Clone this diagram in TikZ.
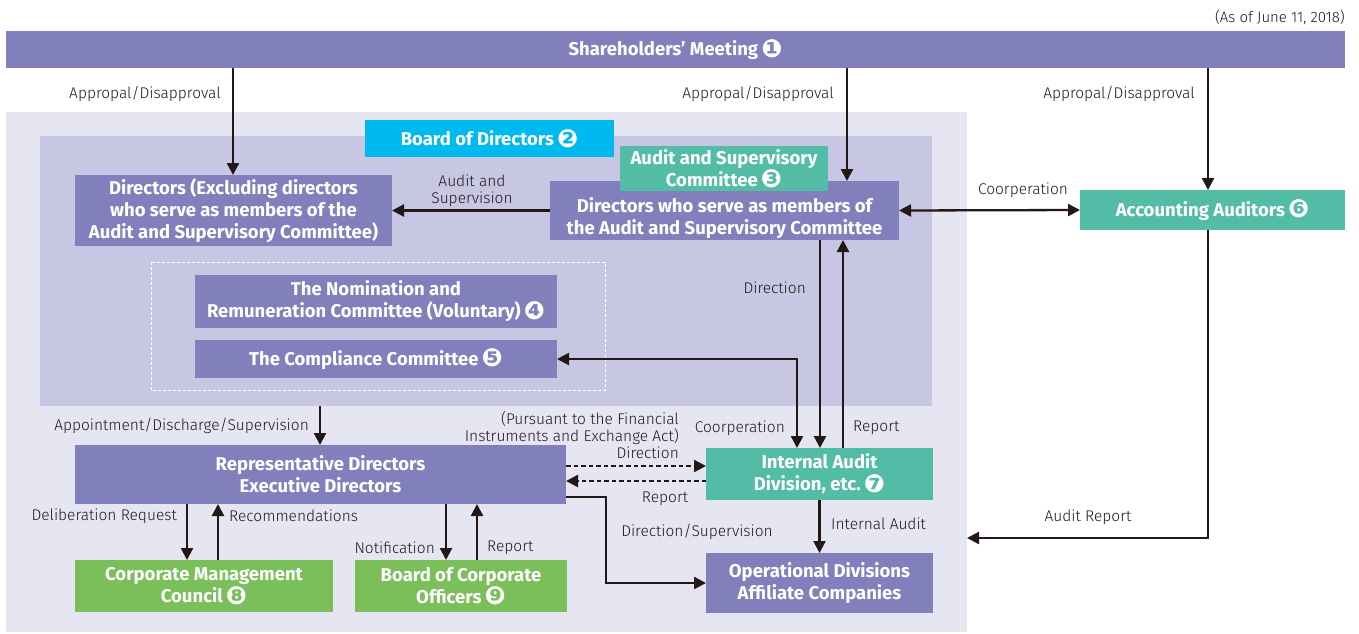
\documentclass[tikz,border=0pt]{standalone}
\usepackage{fontspec}
\usetikzlibrary{arrows.meta}
\setmainfont{Fira Sans}
\newfontfamily\bfam{Fira Sans}
\newfontfamily\lfam{Fira Sans Light}
\newfontfamily\djfam{DejaVu Sans}
\newcommand\cn[1]{\,\raisebox{-1.5pt}{\djfam\fontsize{25}{25}\selectfont #1}}
\definecolor{pur}{RGB}{129,128,189}
\definecolor{tealc}{RGB}{82,188,166}
\definecolor{cyanc}{RGB}{0,185,239}
\definecolor{greenc}{RGB}{122,191,90}
\definecolor{bgone}{RGB}{230,230,243}
\definecolor{bgtwo}{RGB}{199,199,228}
\definecolor{ink}{RGB}{35,24,21}
\tikzset{
 box/.style={inner sep=0pt, outer sep=0pt, align=center, text=white, anchor=north west,
   font=\bfam\bfseries\fontsize{18.5}{22}\selectfont},
 btxt/.style={inner sep=0pt, align=center, text=white, font=\bfam\bfseries\fontsize{18.5}{22}\selectfont},
 lbl/.style={inner sep=0pt, font=\lfam\fontsize{15.5}{17}\selectfont, text=ink, align=center},
 arr/.style={draw=ink, line width=2.3pt, -{Triangle[length=12pt,width=12pt]}},
 darr/.style={arr, dash pattern=on 4.5pt off 3pt},
 area/.style={inner sep=0pt, outer sep=0pt, anchor=north west, draw=none},
}
\begin{document}
\begin{tikzpicture}[x=1pt,y=-1pt]
\useasboundingbox[fill=white] (0,0) rectangle (1359,633);
% background areas
\node[area, fill=bgone, minimum width=961pt, minimum height=520pt] (outer) at (6,112) {};
\node[area, fill=bgtwo, minimum width=892pt, minimum height=270pt] (board) at (40,136) {};
\draw[white, line width=0.9pt, dash pattern=on 3pt off 2pt] (151,262) rectangle (605,390);
% top
\node[lbl, anchor=east, font=\lfam\fontsize{15}{17}\selectfont] (asof) at (1345,17) {(As of June 11, 2018)};
\node[box, fill=pur, minimum width=1339pt, minimum height=37pt] (sh) at (6,31) {Shareholders’ Meeting\cn{❶}};
% boxes
\node[box, fill=cyanc, minimum width=249pt, minimum height=37pt] (bod) at (365,120) {Board of Directors\cn{❷}};
\node[box, fill=pur, minimum width=317pt, minimum height=71pt] (dir1) at (75,175) {Directors (Excluding directors\\who serve as members of the\\Audit and Supervisory Committee)};
\node[box, fill=pur, minimum width=349pt, minimum height=59pt] (dir2) at (550,181) {};
\node[btxt] (dir2t) at ([yshift=-8pt]dir2.center) {Directors who serve as members of\\the Audit and Supervisory Committee};
\node[box, fill=tealc, minimum width=208pt, minimum height=45pt] (asc) at (620,146) {Audit and Supervisory\\Committee\cn{❸}};
\node[box, fill=tealc, minimum width=265pt, minimum height=40pt] (acc) at (1080,190) {Accounting Auditors\cn{❻}};
\node[box, fill=pur, minimum width=362pt, minimum height=53pt] (nom) at (195,275) {The Nomination and\\Remuneration Committee (Voluntary)\cn{❹}};
\node[box, fill=pur, minimum width=362pt, minimum height=38pt] (comp) at (195,340) {The Compliance Committee\cn{❺}};
\node[box, fill=pur, minimum width=491pt, minimum height=59pt] (rep) at (75,445) {Representative Directors\\Executive Directors};
\node[box, fill=tealc, minimum width=227pt, minimum height=52pt] (ia) at (706,448) {Internal Audit\\Division, etc.\cn{❼}};
\node[box, fill=pur, minimum width=227pt, minimum height=60pt] (op) at (706,553) {Operational Divisions\\Affiliate Companies};
\node[box, fill=greenc, minimum width=258pt, minimum height=52pt] (cmc) at (75,560) {Corporate Management\\Council\cn{❽}};
\node[box, fill=greenc, minimum width=212pt, minimum height=52pt] (bco) at (355,560) {Board of Corporate\\Officers\cn{❾}};
% coordinates for vertical connector positions
\coordinate (xa) at (233,0);
\coordinate (xb) at (847,0);
\coordinate (xc) at (1208,0);
\coordinate (xd) at (797,0);
\coordinate (xe) at (820,0);
\coordinate (xf) at (843,0);
\coordinate (xg) at (320,0);
\coordinate (xh) at (187,0);
\coordinate (xi) at (218,0);
\coordinate (xj) at (446,0);
\coordinate (xk) at (477,0);
\coordinate (ya) at (0,466);
\coordinate (yb) at (0,481);
\coordinate (yc) at (0,497);
\coordinate (yd) at (0,538);
\coordinate (bend) at (606,497);
% connectors
\draw[arr] (sh.south -| xa) -- (dir1.north -| xa);
\draw[arr] (sh.south -| xb) -- (dir2.north -| xb);
\draw[arr] (sh.south -| xc) -- (acc.north -| xc);
\draw[arr] (dir2.west) -- (dir1.east);
\draw[arr, {Triangle[length=12pt,width=12pt]}-{Triangle[length=12pt,width=12pt]}] (dir2.east) -- (acc.west);
\draw[arr, {Triangle[length=12pt,width=12pt]}-{Triangle[length=12pt,width=12pt]}] (comp.east) -| (ia.north -| xd);
\draw[arr] (dir2.south -| xe) -- (ia.north -| xe);
\draw[arr] (ia.north -| xf) -- (dir2.south -| xf);
\draw[arr] (board.south -| xg) -- (rep.north -| xg);
\draw[darr] (rep.east |- ya) -- (ia.west |- ya);
\draw[darr] (ia.west |- yb) -- (rep.east |- yb);
\draw[arr] (rep.east |- yc) -- (bend) |- (op.west);
\draw[arr] (ia.south) -- (op.north);
\draw[arr] (acc.south -| xc) |- (outer.east |- yd);
\draw[arr] (rep.south -| xh) -- (cmc.north -| xh);
\draw[arr] (cmc.north -| xi) -- (rep.south -| xi);
\draw[arr] (rep.south -| xj) -- (bco.north -| xj);
\draw[arr] (bco.north -| xk) -- (rep.south -| xk);
% labels
\node[lbl] (l1) at (145,94) {Appropal/Disapproval};
\node[lbl] (l2) at (758,94) {Appropal/Disapproval};
\node[lbl] (l3) at (1119,94) {Appropal/Disapproval};
\node[lbl] (l4) at (472,191) {Audit and\\Supervision};
\node[lbl] (l5) at (1023,190) {Coorperation};
\node[lbl, anchor=east] (l6) at (806,288) {Direction};
\node[lbl, anchor=east, align=right] (l7) at (679,435) {(Pursuant to the Financial\\Instruments and Exchange Act)\\Direction};
\node[lbl, anchor=east] (l8) at (785,428) {Coorperation};
\node[lbl, anchor=west] (l9) at (853,428) {Report};
\node[lbl, anchor=east] (l10) at (309,426) {Appointment/Discharge/Supervision};
\node[lbl] (l11) at (665,499) {Report};
\node[lbl] (l12) at (697,532) {Direction/Supervision};
\node[lbl, anchor=west] (l13) at (831,524) {Internal Audit};
\node[lbl] (l14) at (1088,517) {Audit Report};
\node[lbl, anchor=east] (l15) at (177,516) {Deliberation Request};
\node[lbl, anchor=west] (l16) at (229,516) {Recommendations};
\node[lbl, anchor=east] (l17) at (435,548) {Notification};
\node[lbl, anchor=west] (l18) at (487,548) {Report};
\end{tikzpicture}
\end{document}
